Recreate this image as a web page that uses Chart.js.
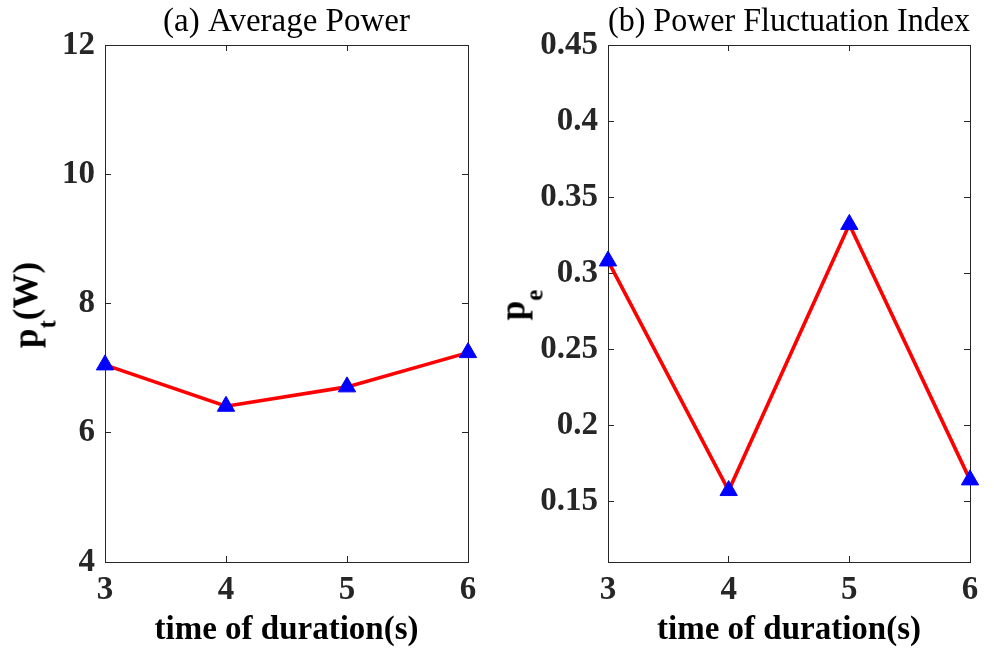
<!DOCTYPE html>
<html>
<head>
<meta charset="utf-8">
<script src="https://cdn.jsdelivr.net/npm/chart.js@4.4.1/dist/chart.umd.min.js"></script>
<style>
  body { margin: 0; background: #fff; }
  #wrap { position: relative; width: 994px; height: 650px; overflow: hidden; }
  #wrap canvas { position: absolute; top: 0; }
  .ylab {
    position: absolute;
    font-family: 'Liberation Serif', 'Times New Roman', serif;
    font-weight: bold;
    font-size: 35px;
    line-height: 1;
    color: #000;
    white-space: nowrap;
    transform: translate(-50%, -50%) rotate(-90deg);
  }
  .ylab sub { font-size: 25px; vertical-align: -18px; line-height: 0; }
</style>
</head>
<body>
<div id="wrap">
  <canvas id="avgPower" width="497" height="650" style="left:0"></canvas>
  <canvas id="fluctIndex" width="497" height="650" style="left:497px"></canvas>
  <div class="ylab" style="left:28px; top:305px">p<sub>t</sub>(W)</div>
  <div class="ylab" style="left:515px; top:305px">p<sub>e</sub></div>
</div>
<script>
// durée (s) et valeurs
const durations = [3, 4, 5, 6];
const avgPower = [7.05, 6.41, 6.71, 7.24];
const fluctIndex = [0.308, 0.157, 0.332, 0.164];

// graduations
const xTicks = [3, 4, 5, 6];
const powerTicks = [4, 6, 8, 10, 12];
const fluctTicks = [0.15, 0.2, 0.25, 0.3, 0.35, 0.4, 0.45];

const serif = "'Liberation Serif', 'Times New Roman', serif";
const axisColor = '#262626';

function setTicks(values) {
    return scale => { scale.ticks = values.map(v => ({ value: v })); };
}

function buildChart(id, cfg) {
    const gridOpts = { drawOnChartArea: false, drawTicks: true, tickLength: -6, color: axisColor, lineWidth: 1 };
    const borderOpts = { display: true, color: axisColor, width: 1 };

    return new Chart(document.getElementById(id), {
        type: 'line',
        data: {
            datasets: [{
                data: durations.map((d, i) => ({ x: d, y: cfg.values[i] })),
                borderColor: '#ff0000',
                borderWidth: 3.6,
                tension: 0,
                pointStyle: 'triangle',
                pointRadius: 10,
                pointBackgroundColor: '#0000ff',
                pointBorderColor: '#0000ff',
                pointBorderWidth: 1,
                clip: false
            }]
        },
        options: {
            responsive: false,
            animation: false,
            layout: { padding: { left: 0, right: cfg.padRight, top: 0, bottom: 0 } },
            plugins: {
                legend: { display: false },
                tooltip: { enabled: false },
                title: {
                    display: true,
                    text: cfg.title,
                    fullSize: false,
                    color: '#000',
                    font: { family: serif, size: 33, weight: 'normal' },
                    padding: { top: 3, bottom: 2.4 }
                }
            },
            scales: {
                x: {
                    type: 'linear',
                    min: xTicks[0],
                    max: xTicks[xTicks.length - 1],
                    afterBuildTicks: setTicks(xTicks),
                    afterFit: s => { s.height = 88; },
                    border: borderOpts,
                    grid: gridOpts,
                    ticks: {
                        color: axisColor,
                        padding: 15,
                        maxRotation: 0,
                        autoSkip: false,
                        font: { family: serif, size: 33, weight: 'bold' },
                        callback: v => String(v)
                    },
                    title: {
                        display: true,
                        text: 'time of duration(s)',
                        color: '#000',
                        font: { family: serif, size: 33, weight: 'bold' },
                        padding: { top: 0, bottom: 0 }
                    }
                },
                x2: {
                    type: 'linear',
                    position: 'top',
                    min: xTicks[0],
                    max: xTicks[xTicks.length - 1],
                    afterBuildTicks: setTicks(xTicks),
                    afterFit: s => { s.height = 0; },
                    border: borderOpts,
                    grid: gridOpts,
                    ticks: { display: false }
                },
                y: {
                    type: 'linear',
                    min: cfg.min,
                    max: cfg.max,
                    afterBuildTicks: setTicks(cfg.ticks),
                    afterFit: s => { s.width = cfg.yWidth; },
                    border: borderOpts,
                    grid: gridOpts,
                    ticks: {
                        color: axisColor,
                        padding: 16,
                        font: { family: serif, size: 33, weight: 'bold' },
                        callback: v => String(v)
                    }
                },
                y2: {
                    type: 'linear',
                    position: 'right',
                    min: cfg.min,
                    max: cfg.max,
                    afterBuildTicks: setTicks(cfg.ticks),
                    afterFit: s => { s.width = 0; },
                    border: borderOpts,
                    grid: gridOpts,
                    ticks: { display: false }
                }
            }
        }
    });
}

buildChart('avgPower', {
    title: '(a) Average Power',
    values: avgPower,
    ticks: powerTicks,
    min: 4, max: 12,
    yWidth: 105, padRight: 29
});

buildChart('fluctIndex', {
    title: '(b) Power Fluctuation Index',
    values: fluctIndex,
    ticks: fluctTicks,
    min: 0.11, max: 0.45,
    yWidth: 111, padRight: 24
});
</script>
</body>
</html>
